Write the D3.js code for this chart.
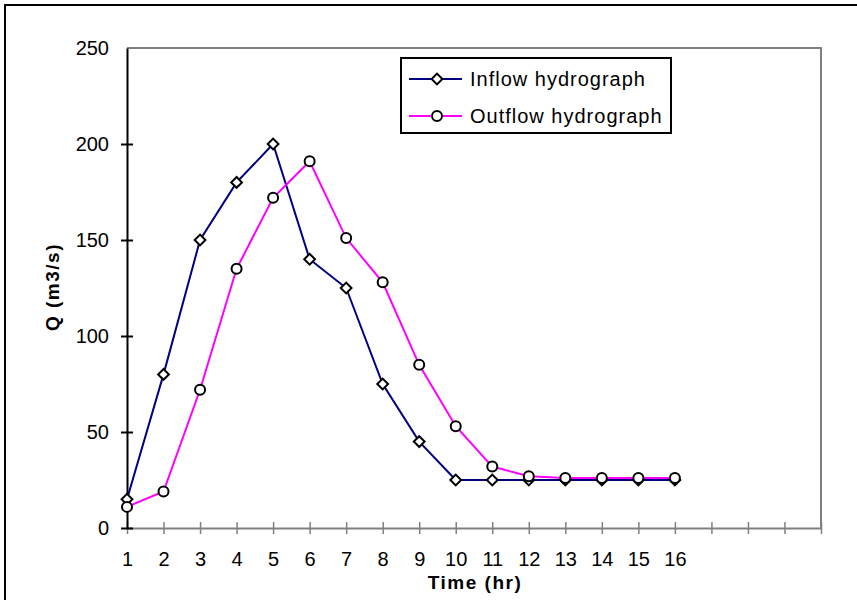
<!DOCTYPE html>
<html>
<head>
<meta charset="utf-8">
<script src="https://cdn.jsdelivr.net/npm/d3@7"></script>
<style>
  body { margin: 0; background: #fff; }
  text { font-family: "Liberation Sans", Arial, sans-serif; }
</style>
</head>
<body>
<div class="chart"></div>
<script>
// data
var hours = [1, 2, 3, 4, 5, 6, 7, 8, 9, 10, 11, 12, 13, 14, 15, 16];
var inflow = [15, 80, 150, 180, 200, 140, 125, 75, 45, 25, 25, 25, 25, 25, 25, 25];
var outflow = [11, 19, 72, 135, 172, 191, 151, 128, 85, 53, 32, 27, 26, 26, 26, 26];
var xTicks = d3.range(1, 21);          // axis runs to 20, labels stop at 16
var yTicks = [0, 50, 100, 150, 200, 250];
var seriesNames = ["Inflow hydrograph", "Outflow hydrograph"];

// plot area
var margin = {top: 48, right: 36, bottom: 72, left: 127},
    W = 857, H = 600,
    width = W - margin.left - margin.right,
    height = H - margin.top - margin.bottom;

var svg = d3.select(".chart").append("svg")
    .attr("width", W)
    .attr("height", H);

// outer chart border (runs off right/bottom edge)
svg.append("rect")
    .attr("x", 5).attr("y", 5)
    .attr("width", W + 10).attr("height", H + 10)
    .attr("fill", "#fff")
    .attr("stroke", "#000")
    .attr("stroke-width", 2);

var g = svg.append("g")
    .attr("transform", `translate(${margin.left},${margin.top})`);

var x = d3.scaleLinear().domain([1, 20]).range([0, width]);
var y = d3.scaleLinear().domain([0, 250]).range([height, 0]);

// gray frame on top and right
g.append("path")
    .attr("d", `M0,0H${width}V${height}`)
    .attr("fill", "none")
    .attr("stroke", "#808080")
    .attr("stroke-width", 2);

// x axis
var xAxis = g.append("g")
    .attr("transform", `translate(0,${height})`)
    .call(d3.axisBottom(x)
        .tickValues(xTicks)
        .tickSizeInner(6)
        .tickSizeOuter(0)
        .tickPadding(18)
        .tickFormat(d => d <= 16 ? d : ""));
xAxis.select(".domain").attr("stroke", "#808080").attr("stroke-width", 2);
xAxis.selectAll(".tick line").attr("stroke", "#808080").attr("stroke-width", 1.5).attr("y1", -6);
xAxis.selectAll(".tick text").style("font-size", "20px").attr("fill", "#000");

// y axis
var yAxis = g.append("g")
    .call(d3.axisLeft(y)
        .tickValues(yTicks)
        .tickSizeInner(6)
        .tickSizeOuter(0)
        .tickPadding(12));
yAxis.select(".domain").attr("stroke", "#000").attr("stroke-width", 2);
yAxis.selectAll(".tick line").attr("stroke", "#000").attr("stroke-width", 2)
    .attr("x2", d => d === 250 ? -6 : 6).attr("x1", -6);
yAxis.selectAll(".tick text").style("font-size", "20px").attr("fill", "#000");

// lines and markers
var line = d3.line()
    .x((d, i) => x(hours[i]))
    .y(d => y(d));

var diamond = d3.symbol().type(d3.symbolSquare).size(58);

g.append("path")
    .datum(inflow)
    .attr("d", line)
    .attr("fill", "none")
    .attr("stroke", "#000080")
    .attr("stroke-width", 2);

g.selectAll(".inpt")
    .data(inflow)
    .join("path")
    .attr("class", "inpt")
    .attr("d", diamond)
    .attr("transform", (d, i) => `translate(${x(hours[i])},${y(d)}) rotate(45)`)
    .attr("fill", "#fff")
    .attr("stroke", "#000")
    .attr("stroke-width", 2);

g.append("path")
    .datum(outflow)
    .attr("d", line)
    .attr("fill", "none")
    .attr("stroke", "#ff00ff")
    .attr("stroke-width", 2);

g.selectAll(".outpt")
    .data(outflow)
    .join("circle")
    .attr("class", "outpt")
    .attr("cx", (d, i) => x(hours[i]))
    .attr("cy", d => y(d))
    .attr("r", 5)
    .attr("fill", "#fff")
    .attr("stroke", "#000")
    .attr("stroke-width", 2);

// legend
var legend = svg.append("g").attr("transform", "translate(401,58)");
legend.append("rect")
    .attr("width", 270).attr("height", 75)
    .attr("fill", "#fff")
    .attr("stroke", "#000")
    .attr("stroke-width", 2);

var legendColors = ["#000080", "#ff00ff"];
seriesNames.forEach(function(name, i) {
    var ly = 21 + i * 37;
    legend.append("line")
        .attr("x1", 8).attr("x2", 61)
        .attr("y1", ly).attr("y2", ly)
        .attr("stroke", legendColors[i])
        .attr("stroke-width", 2);
    if (i === 0) {
        legend.append("path")
            .attr("d", diamond)
            .attr("transform", `translate(36,${ly}) rotate(45)`)
            .attr("fill", "#fff").attr("stroke", "#000").attr("stroke-width", 2);
    } else {
        legend.append("circle")
            .attr("cx", 36).attr("cy", ly).attr("r", 5)
            .attr("fill", "#fff").attr("stroke", "#000").attr("stroke-width", 2);
    }
    legend.append("text")
        .attr("x", 69)
        .attr("y", ly + 7)
        .style("font-size", "20px")
        .style("letter-spacing", "1px")
        .text(name);
});

// axis titles
svg.append("text")
    .attr("x", 475)
    .attr("y", 589)
    .attr("text-anchor", "middle")
    .style("font-size", "19px")
    .style("font-weight", "bold")
    .style("letter-spacing", "1.5px")
    .text("Time (hr)");

svg.append("text")
    .attr("transform", "translate(59,287) rotate(-90)")
    .attr("text-anchor", "middle")
    .style("font-size", "19px")
    .style("font-weight", "bold")
    .style("letter-spacing", "1.5px")
    .text("Q (m3/s)");
</script>
</body>
</html>
